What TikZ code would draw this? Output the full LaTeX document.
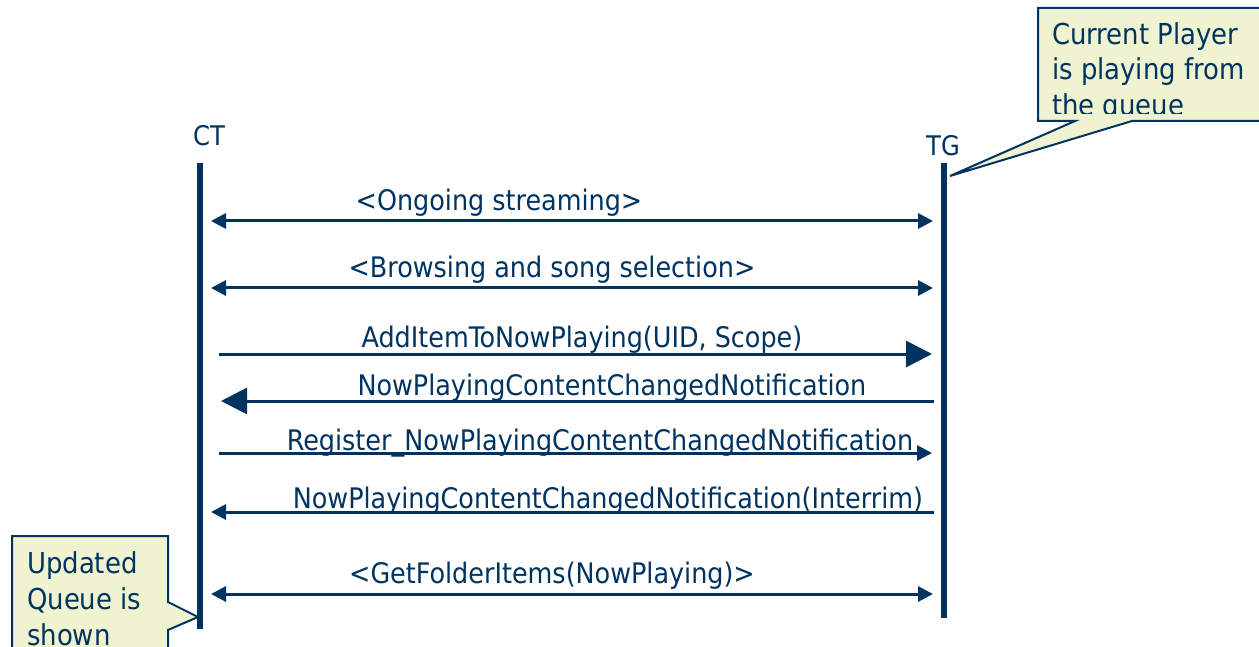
\documentclass[tikz,border=0pt]{standalone}
\usepackage{fontspec}
\setmainfont{DejaVu Sans Condensed}
\usetikzlibrary{arrows.meta}
\definecolor{navy}{RGB}{0,51,96}
\definecolor{pale}{RGB}{240,243,208}
\tikzset{
  life/.style={draw=navy, line width=6pt},
  msg/.style={draw=navy, line width=3pt},
  smalltip/.tip={Triangle[length=15pt,width=15pt]},
  bigtip/.tip={Triangle[length=26pt,width=26pt]},
  lbl/.style={text=navy, font=\fontsize{28.3}{32}\selectfont, anchor=base, inner sep=0pt},
  head/.style={text=navy, font=\fontsize{27}{32}\selectfont, anchor=base, inner sep=0pt},
  callout/.style={draw=navy, line width=2pt, fill=pale},
  ctext/.style={text=navy, font=\fontsize{28.8}{35}\selectfont, anchor=base west, inner sep=0pt, align=left},
}
\begin{document}
\begin{tikzpicture}[x=1pt,y=-1pt]
\useasboundingbox (0,0) rectangle (1259,647);
\clip (0,0) rectangle (1259,647);
% lifelines
\coordinate (cttop) at (200,163);
\coordinate (ctbot) at (200,629);
\coordinate (tgtop) at (944,163);
\coordinate (tgbot) at (944,618);
\draw[life] (cttop) -- (ctbot);
\draw[life] (tgtop) -- (tgbot);
\node[head] (ct) at (209,146) {CT};
\node[head] (tg) at (943,156) {TG};
% callouts
\draw[callout] (1038,8) -- (1275,8) -- (1275,121) -- (1132,121) -- (950,176) -- (1075,121) -- (1038,121) -- cycle;
\begin{scope}
\clip (1039,9) rectangle (1275,114);
\node[ctext] (cp1) at (1052,45) {Current Player};
\node[ctext] (cp2) at (1052,80) {is playing from};
\node[ctext] (cp3) at (1052,116) {the queue};
\end{scope}
\draw[callout] (12,536) -- (168,536) -- (168,602) -- (198,617) -- (168,630) -- (168,665) -- (12,665) -- cycle;
\node[ctext] (uq1) at (27,573) {Updated};
\node[ctext] (uq2) at (27,609) {Queue is};
\node[ctext] (uq3) at (27,645) {shown};
% messages
\coordinate (a1l) at (211,221); \coordinate (a1r) at (933,221);
\draw[msg, smalltip-smalltip] (a1l) -- (a1r);
\node[lbl] (l1) at (499,211) {<Ongoing streaming>};
\coordinate (a2l) at (211,288); \coordinate (a2r) at (933,288);
\draw[msg, smalltip-smalltip] (a2l) -- (a2r);
\node[lbl] (l2) at (552,277) {<Browsing and song selection>};
\coordinate (a3l) at (219,354); \coordinate (a3r) at (932,354);
\draw[msg, -bigtip] (a3l) -- (a3r);
\node[lbl] (l3) at (582,347) {AddItemToNowPlaying(UID, Scope)};
\coordinate (a4l) at (221,401); \coordinate (a4r) at (934,401);
\draw[msg, bigtip-] (a4l) -- (a4r);
\node[lbl] (l4) at (612,395) {NowPlayingContentChangedNotification};
\coordinate (a5l) at (219,453); \coordinate (a5r) at (932,453);
\draw[msg, -smalltip] (a5l) -- (a5r);
\node[lbl] (l5) at (600,450) {Register\_NowPlayingContentChangedNotification};
\coordinate (a6l) at (211,512); \coordinate (a6r) at (934,512);
\draw[msg, smalltip-] (a6l) -- (a6r);
\node[lbl] (l6) at (608,508) {NowPlayingContentChangedNotification(Interrim)};
\coordinate (a7l) at (211,594); \coordinate (a7r) at (933,594);
\draw[msg, smalltip-smalltip] (a7l) -- (a7r);
\node[lbl] (l7) at (552,583) {<GetFolderItems(NowPlaying)>};
\end{tikzpicture}
\end{document}
